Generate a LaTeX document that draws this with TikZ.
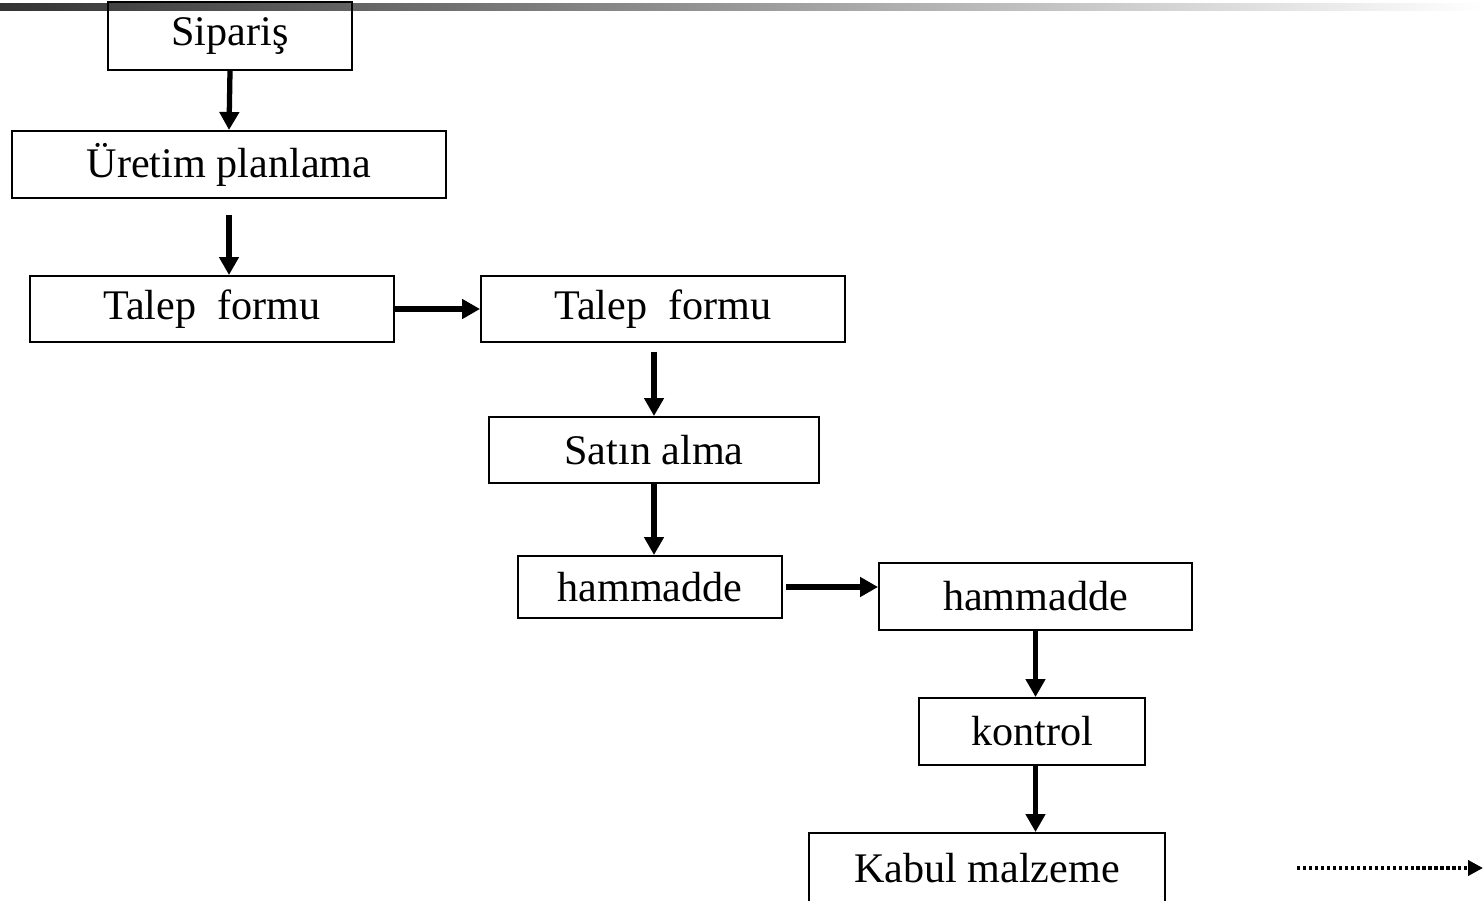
\documentclass[tikz,border=0pt]{standalone}
\usepackage{fontspec}
\setmainfont{Liberation Serif}
\usepackage{tikz}
\usetikzlibrary{arrows.meta,positioning,calc}
\definecolor{bk80}{HTML}{333333}
\tikzset{
  stepbox/.style={
    rectangle, draw=black, line width=1.1pt,
    minimum width=#1, inner sep=0pt,
    font=\fontsize{24}{28}\selectfont, align=center
  },
  stepbox/.default=4cm,
  flowarrow/.style={
    -{Triangle[length=0.36cm,width=0.38cm]}, line width=3pt
  },
  nextarrow/.style={
    -{Triangle[length=0.3cm,width=0.3cm]}, line width=2.6pt,
    dash pattern=on 1.8pt off 1.6pt
  },
}
\begin{document}
\begin{tikzpicture}[x=0.02cm,y=-0.02cm]
\useasboundingbox (0,0) rectangle (1483,901);
\clip (0,0) rectangle (1483,901);

% title bar
\shade[left color=bk80, right color=white] (0,4) rectangle (1483,11);

% left column
\node[stepbox=4.88cm, minimum height=1.36cm] (sip) at (230,36) {Sipariş};
\node[stepbox=8.68cm, minimum height=1.34cm] (uret) at (229,164.5) {Üretim planlama};
\node[stepbox=7.28cm, minimum height=1.32cm] (talepA) at (212,309) {Talep \ formu};

% middle column
\node[stepbox=7.28cm, minimum height=1.32cm] (talepB) at (663,309) {Talep \ formu};
\node[stepbox=6.6cm, minimum height=1.32cm] (satin) at (654,450) {Satın alma};
\node[stepbox=5.28cm, minimum height=1.24cm] (hamA) at (650,587) {hammadde};

% right column
\node[stepbox=6.26cm, minimum height=1.34cm] (hamB) at (1035.5,596.5) {hammadde};
\node[stepbox=4.52cm, minimum height=1.34cm] (kontrol) at (1032,731.5) {kontrol};
\node[stepbox=7.12cm, minimum height=1.4cm] (kabul) at (987,868) {Kabul malzeme};

% free ends of the dotted arrow
\coordinate (devamA) at (1297,868);
\coordinate (devamB) at (1483,868);

% connectors
\draw[flowarrow] (sip.south) -- (uret.north);
\draw[flowarrow, shorten <=9pt] (uret.south) -- (uret.south |- talepA.north);
\draw[flowarrow] (talepA.east) -- (talepB.west);
\draw[flowarrow, shorten <=5pt] (satin.north |- talepB.south) -- (satin.north);
\draw[flowarrow] (satin.south) -- (satin.south |- hamA.north);
\draw[flowarrow, shorten <=2pt] (hamA.east) -- (hamA.east -| hamB.west);
\draw[flowarrow] (hamB.south) -- (hamB.south |- kontrol.north);
\draw[flowarrow] (hamB.south |- kontrol.south) -- (hamB.south |- kabul.north);
\draw[nextarrow] (devamA) -- (devamB);

\end{tikzpicture}
\end{document}
